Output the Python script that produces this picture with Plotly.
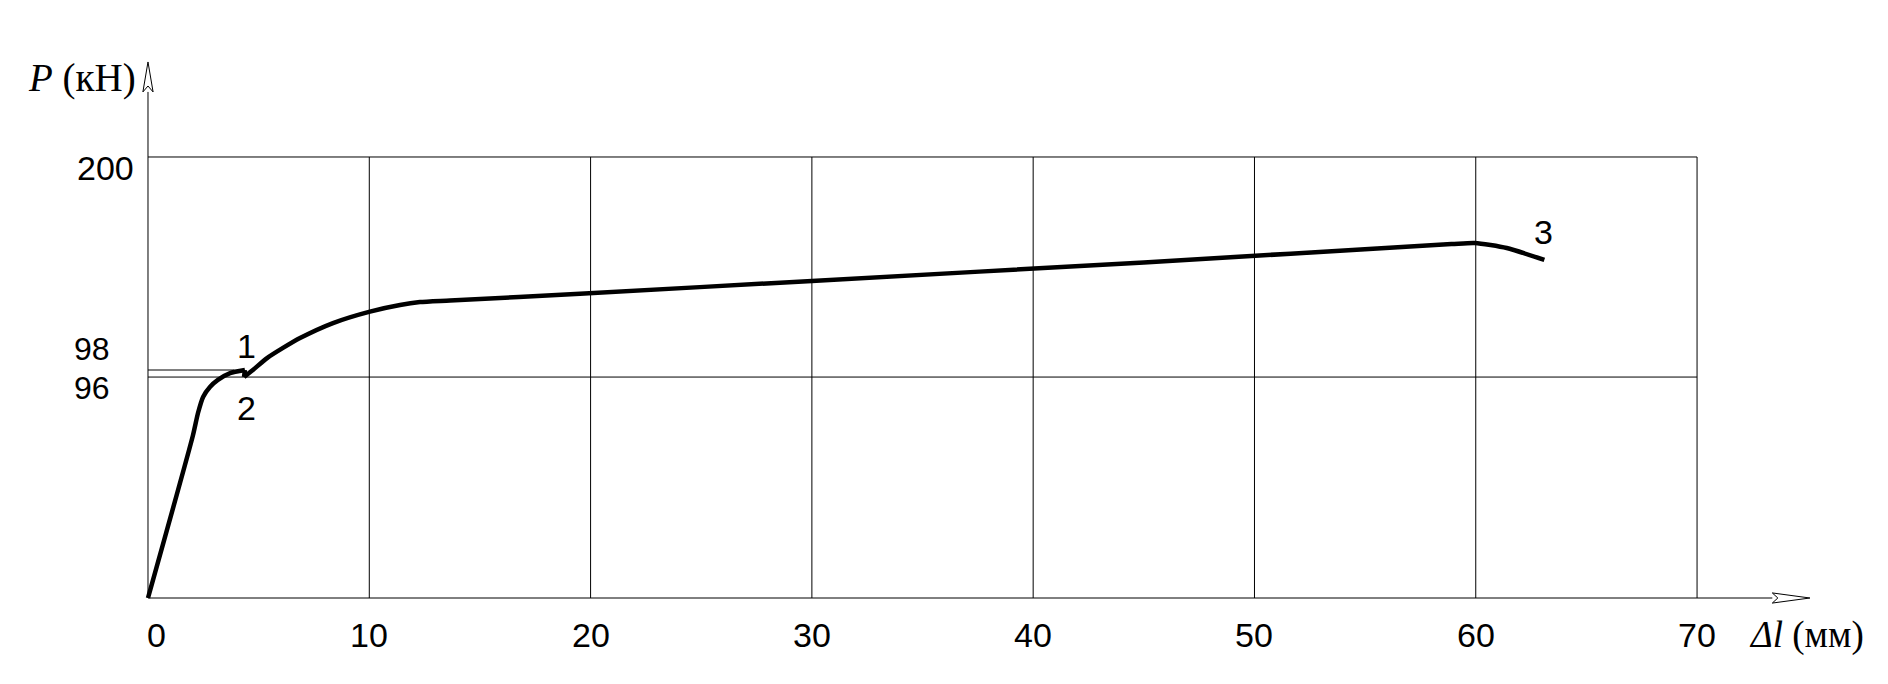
import plotly.graph_objects as go

# ---- data (P in drawn-scale units, grid at 0/100/200) ----
# elastic part up to yield point 1
dl_elastic = [0.0, 2.03, 2.26, 2.49, 2.80, 3.16, 3.71, 4.38]
p_elastic = [0.0, 73.7, 83.9, 91.2, 95.7, 98.9, 102.0, 103.4]
# yield drop 1 -> 2
dl_drop = [4.38, 4.34]
p_drop = [103.4, 100.2]
# hardening up to rupture point 3
dl_hard = [4.34, 4.74, 5.38, 6.10, 6.87, 8.36, 10.03, 11.39, 12.29, 13.65, 19.52, 30.0, 45.0, 58.9, 59.96, 61.4, 63.1]
p_hard = [100.2, 103.4, 108.8, 113.4, 117.9, 124.7, 129.9, 132.9, 134.2, 134.9, 138.0, 143.8, 152.2, 160.5, 161.0, 158.7, 153.3]

x_ticks = [0, 10, 20, 30, 40, 50, 60, 70]
x_tick_labels = ["0", "10", "20", "30", "40", "50", "60", "70"]
y_grid = [100.2, 200]            # drawn positions of the 96 and 200 lines
y_tick_pos = [195.0, 113.0, 95.3]
y_tick_labels = ["200", "98", "96"]
y98_line = 103.4
point_labels = ["1", "2", "3"]
point_label_x = [4.47, 4.47, 63.04]
point_label_y = [114.2, 86.2, 165.9]

NUM_FONT = dict(family="Liberation Sans Narrow, Arial Narrow, Liberation Sans, Arial", size=34, color="black")
NUM_FONT_SMALL = dict(family="Liberation Sans Narrow, Arial Narrow, Liberation Sans, Arial", size=32, color="black")
SERIF_FONT = dict(family="Liberation Serif, Times New Roman, serif", size=39, color="black")
SERIF_FONT_X = dict(family="Liberation Serif, Times New Roman, serif", size=37, color="black")

fig = go.Figure()
for xs, ys, shp in [(dl_elastic, p_elastic, "spline"), (dl_drop, p_drop, "linear"), (dl_hard, p_hard, "spline")]:
    fig.add_trace(go.Scatter(x=xs, y=ys, mode="lines",
                             line=dict(color="black", width=4.5, shape=shp, smoothing=0.6),
                             showlegend=False, hoverinfo="skip"))

shapes = []
line_style = dict(color="black", width=1)
# vertical grid lines
for xv in x_ticks[1:]:
    shapes.append(dict(type="line", x0=xv, x1=xv, y0=0, y1=200, line=line_style, layer="below"))
# horizontal grid lines
for yv in y_grid:
    shapes.append(dict(type="line", x0=0, x1=70, y0=yv, y1=yv, line=line_style, layer="below"))
shapes.append(dict(type="line", x0=0, x1=3.9, y0=y98_line, y1=y98_line, line=line_style, layer="below"))
# axes
shapes.append(dict(type="line", x0=0, x1=73.4, y0=0, y1=0, line=line_style))
shapes.append(dict(type="line", x0=0, x1=0, y0=0, y1=229.5, line=line_style))
# open arrowheads
shapes.append(dict(type="path", path="M 73.4 -2.3 L 75.1 0 L 73.4 2.3 L 73.65 0 Z",
                   line=line_style, fillcolor="white"))
shapes.append(dict(type="path", path="M -0.23 229.5 L 0 243.1 L 0.23 229.5 L 0 232.2 Z",
                   line=line_style, fillcolor="white"))

annotations = []
for xv, txt in zip(x_ticks, x_tick_labels):
    annotations.append(dict(x=xv + (0.4 if xv == 0 else 0), y=-16.6, text=txt, showarrow=False,
                            font=NUM_FONT, xanchor="center", yanchor="middle"))
annotations.append(dict(x=-0.55, y=y_tick_pos[0], text=y_tick_labels[0], showarrow=False,
                        font=NUM_FONT, xanchor="right", yanchor="middle"))
for yv, txt in zip(y_tick_pos[1:], y_tick_labels[1:]):
    annotations.append(dict(x=-1.63, y=yv, text=txt, showarrow=False,
                            font=NUM_FONT_SMALL, xanchor="right", yanchor="middle"))
for xv, yv, txt in zip(point_label_x, point_label_y, point_labels):
    annotations.append(dict(x=xv, y=yv, text=txt, showarrow=False,
                            font=NUM_FONT, xanchor="center", yanchor="middle"))
annotations.append(dict(x=-0.45, y=236.0, text="<i>P</i> (кН)", showarrow=False,
                        font=SERIF_FONT, xanchor="right", yanchor="middle"))
annotations.append(dict(x=72.25, y=-16.6, text="<i>Δl</i> (мм)", showarrow=False,
                        font=SERIF_FONT_X, xanchor="left", yanchor="middle"))

# ranges offset by the page's 8px body margin so the drawing lands where the reference has it
fig.update_layout(
    width=1888, height=684,
    margin=dict(l=0, r=0, t=0, b=0),
    paper_bgcolor="white", plot_bgcolor="white",
    xaxis=dict(range=[-6.326, 78.99], visible=False, fixedrange=True),
    yaxis=dict(range=[-42.63, 267.57], visible=False, fixedrange=True),
    shapes=shapes, annotations=annotations,
)

fig.write_html("out.html")
